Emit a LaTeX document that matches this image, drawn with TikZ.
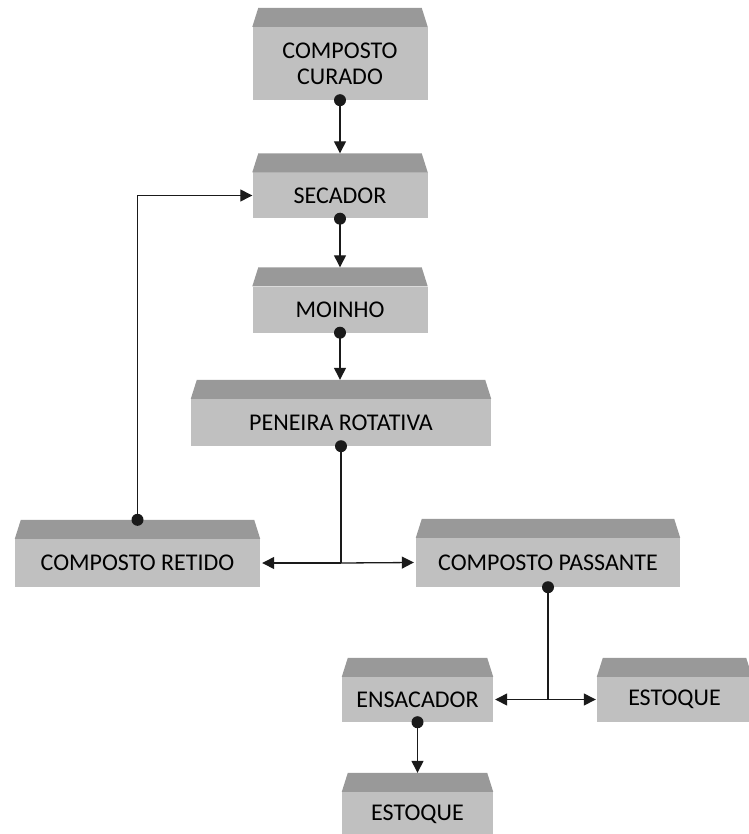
\documentclass[tikz,border=0pt]{standalone}
\usepackage{fontspec}
\setmainfont{Carlito}
\usetikzlibrary{arrows.meta}
\definecolor{boxgray}{HTML}{C0C0C0}
\definecolor{bevelgray}{HTML}{999999}
\definecolor{linegray}{HTML}{1A1A1A}
\tikzset{
  stage/.style={fill=boxgray, inner sep=0pt, align=center, text=black,
    font=\fontsize{24}{26}\selectfont},
  flow/.style={linegray, line width=1.3pt},
  tip/.style={-{Triangle[length=12pt,width=12pt]}},
}
\begin{document}
\begin{tikzpicture}[x=1pt,y=-1pt]
            \useasboundingbox (0,0) rectangle (748,834);

            % process boxes
            \node[stage, minimum width=175, minimum height=73] (curado) at (340,63.5) {COMPOSTO\\CURADO};
            \node[stage, minimum width=175, minimum height=46] (secador) at (340,195.5) {SECADOR};
            \node[stage, minimum width=175, minimum height=46] (moinho) at (340,309.5) {MOINHO};
            \node[stage, minimum width=300, minimum height=47] (peneira) at (341,422.5) {PENEIRA ROTATIVA};
            \node[stage, minimum width=245, minimum height=48] (retido) at (137.5,563) {COMPOSTO RETIDO};
            \node[stage, minimum width=264, minimum height=49] (passante) at (548,562.5) {COMPOSTO PASSANTE};
            \node[stage, minimum width=151, minimum height=45] (ensacador) at (417.5,699.5) {ENSACADOR};
            \node[stage, minimum width=155, minimum height=45] (estoqueA) at (674.5,699.5) {ESTOQUE};
            \node[stage, minimum width=151, minimum height=45] (estoqueB) at (417.5,814.5) {ESTOQUE};

            % bevelled tops
            \foreach \b in {curado,secador,moinho,peneira,retido,passante,ensacador,estoqueA,estoqueB} {
                \fill[bevelgray] (\b.north west) -- ([xshift=6pt,yshift=19pt]\b.north west)
                    -- ([xshift=-6pt,yshift=19pt]\b.north east) -- (\b.north east) -- cycle;
            }

            \coordinate (splitA) at (peneira.south |- retido.east);
            \coordinate (splitB) at (passante.south |- ensacador.east);

            % connectors
            \draw[flow, tip] (curado.south) -- ([yshift=19pt]secador.north);
            \draw[flow, tip] (secador.south) -- ([yshift=19pt]moinho.north);
            \draw[flow, tip] (moinho.south) -- ([yshift=19pt]moinho.south |- peneira.north);
            \draw[flow] (peneira.south) -- (splitA);
            \draw[flow, tip] (splitA) -- ([xshift=2pt]retido.east);
            \draw[flow, tip] (splitA) -- ([xshift=-2pt]passante.west);
            \draw[flow, tip] ([yshift=19pt]retido.north) |- (secador.west);
            \draw[flow] (passante.south) -- (splitB);
            \draw[flow, tip] (splitB) -- ([xshift=2pt]ensacador.east);
            \draw[flow, tip] (splitB) -- ([xshift=-1pt]estoqueA.west);
            \draw[flow, tip] (ensacador.south) -- ([yshift=19pt]estoqueB.north);

            % start dots
            \foreach \s in {curado.south,secador.south,moinho.south,peneira.south,passante.south,ensacador.south} {
                \fill[linegray] (\s) circle (6pt);
            }
            \fill[linegray] ([yshift=19pt]retido.north) circle (6pt);
\end{tikzpicture}
\end{document}
